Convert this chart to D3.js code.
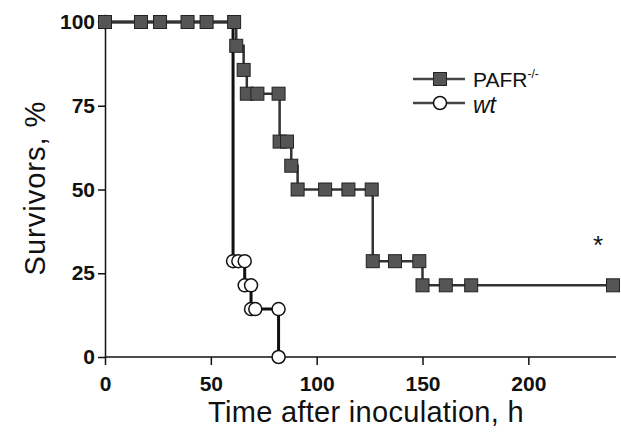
<!DOCTYPE html>
<html>
<head>
    <meta charset="utf-8">
    <title>Survival</title>
    <script src="https://cdnjs.cloudflare.com/ajax/libs/d3/7.8.5/d3.min.js"></script>
    <style>
        body { margin: 0; background: #fff; }
        text { font-family: "Liberation Sans", Arial, sans-serif; fill: #111; }
    </style>
</head>
<body>
<script type="text/javascript">
    // Kaplan-Meier points (time in h, survivors in %)
    var pafrTimes = [0, 17, 26, 39, 48, 61, 62, 65.5, 67, 72, 82, 82.5, 86, 88, 91, 104, 115, 126, 126.5, 137, 148.5, 150, 161, 173, 240];
    var pafrSurv  = [100, 100, 100, 100, 100, 100, 92.9, 85.7, 78.6, 78.6, 78.6, 64.3, 64.3, 57.1, 50, 50, 50, 50, 28.6, 28.6, 28.6, 21.4, 21.4, 21.4, 21.4];
    var wtTimes = [0, 60.5, 63, 66, 66, 69, 69, 71, 82, 82];
    var wtSurv  = [100, 28.6, 28.6, 28.6, 21.4, 21.4, 14.3, 14.3, 14.3, 0];
    var xTicks = [0, 50, 100, 150, 200];
    var yTicks = [0, 25, 50, 75, 100];

    var width = 621, height = 435;
    var mLeft = 105, mRight = 613, mTop = 22, mBottom = 357;

    var svg = d3.select("body").append("svg")
        .attr("width", width)
        .attr("height", height);

    var xScale = d3.scaleLinear().domain([0, 240]).range([mLeft, mRight]);
    var yScale = d3.scaleLinear().domain([0, 100]).range([mBottom, mTop]);

    // axes
    var xAxis = d3.axisBottom(xScale).tickValues(xTicks).tickSize(8).tickPadding(11).tickSizeOuter(0);
    var yAxis = d3.axisLeft(yScale).tickValues(yTicks).tickSize(7).tickPadding(3).tickSizeOuter(0);

    var gx = svg.append("g")
        .attr("transform", "translate(0," + mBottom + ")")
        .call(xAxis);
    var gy = svg.append("g")
        .attr("transform", "translate(" + mLeft + ",0)")
        .call(yAxis);

    gx.select(".domain").attr("d", "M" + mLeft + ",0H" + (mRight + 3));

    [gx, gy].forEach(function (g) {
        g.select(".domain").attr("stroke", "#111").attr("stroke-width", 1.5);
        g.selectAll(".tick line").attr("stroke", "#111").attr("stroke-width", 1.5);
        g.selectAll(".tick text")
            .attr("fill", "#111")
            .style("font-size", "21px")
            .style("font-weight", "bold")
            .style("font-family", "'Liberation Sans', Arial, sans-serif");
    });

    // axis titles
    svg.append("text")
        .attr("x", 366).attr("y", 422)
        .attr("text-anchor", "middle")
        .style("font-size", "29px")
        .style("letter-spacing", "0.3px")
        .text("Time after inoculation, h");

    svg.append("text")
        .attr("transform", "translate(45,188) rotate(-90)")
        .attr("text-anchor", "middle")
        .style("font-size", "29px")
        .style("letter-spacing", "1px")
        .text("Survivors, %");

    var line = d3.line()
        .x(function (d) { return xScale(d[0]); })
        .y(function (d) { return yScale(d[1]); })
        .curve(d3.curveStepAfter);

    var wt = wtTimes.map(function (t, i) { return [t, wtSurv[i]]; });
    var pafr = pafrTimes.map(function (t, i) { return [t, pafrSurv[i]]; });

    // wt series
    svg.append("path")
        .datum(wt)
        .attr("fill", "none")
        .attr("stroke", "#111")
        .attr("stroke-width", 3)
        .attr("d", line);

    svg.selectAll("circle.wt")
        .data(wt)
        .enter().append("circle")
        .attr("class", "wt")
        .attr("cx", function (d) { return xScale(d[0]); })
        .attr("cy", function (d) { return yScale(d[1]); })
        .attr("r", 6.5)
        .attr("fill", "#fff")
        .attr("stroke", "#111")
        .attr("stroke-width", 1.5);

    // PAFR-/- series
    svg.append("path")
        .datum(pafr)
        .attr("fill", "none")
        .attr("stroke", "#333")
        .attr("stroke-width", 2.5)
        .attr("d", line);

    svg.selectAll("rect.pafr")
        .data(pafr)
        .enter().append("rect")
        .attr("class", "pafr")
        .attr("x", function (d) { return xScale(d[0]) - 6.5; })
        .attr("y", function (d) { return yScale(d[1]) - 6.5; })
        .attr("width", 13)
        .attr("height", 13)
        .attr("fill", "#555")
        .attr("stroke", "#222")
        .attr("stroke-width", 1);

    // legend
    var legend = svg.append("g");
    legend.append("line")
        .attr("x1", 413).attr("x2", 465).attr("y1", 79).attr("y2", 79)
        .attr("stroke", "#444").attr("stroke-width", 2.5);
    legend.append("rect")
        .attr("x", 433.5).attr("y", 72.5).attr("width", 13).attr("height", 13)
        .attr("fill", "#555").attr("stroke", "#222");
    var t1 = legend.append("text")
        .attr("x", 473).attr("y", 87)
        .style("font-size", "21px")
        .text("PAFR");
    t1.append("tspan")
        .attr("dy", -9)
        .style("font-size", "12px")
        .text("-/-");

    legend.append("line")
        .attr("x1", 413).attr("x2", 465).attr("y1", 103).attr("y2", 103)
        .attr("stroke", "#444").attr("stroke-width", 2.5);
    legend.append("circle")
        .attr("cx", 440).attr("cy", 103).attr("r", 6.5)
        .attr("fill", "#fff").attr("stroke", "#111").attr("stroke-width", 1.5);
    legend.append("text")
        .attr("x", 473).attr("y", 113)
        .style("font-size", "23px")
        .style("font-style", "italic")
        .text("wt");

    // significance mark
    svg.append("text")
        .attr("x", 598).attr("y", 254)
        .attr("text-anchor", "middle")
        .style("font-size", "26px")
        .text("*");
</script>
</body>
</html>
